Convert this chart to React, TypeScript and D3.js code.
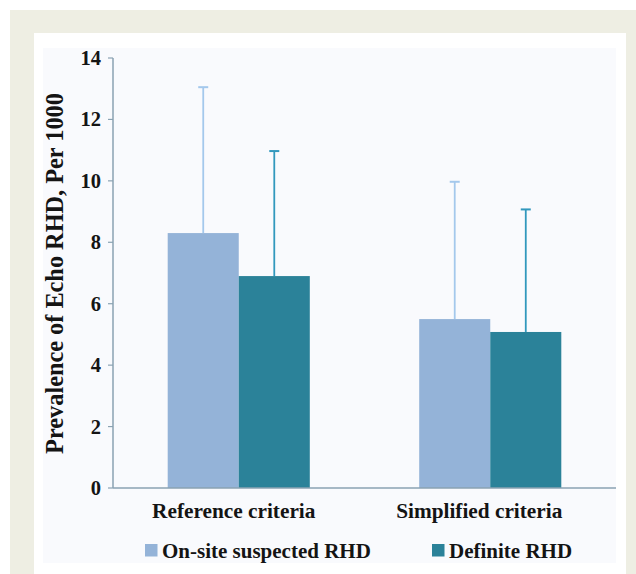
import React from 'react';
import * as d3 from 'd3';

const categories = ['Reference criteria', 'Simplified criteria'];
const seriesNames = ['On-site suspected RHD', 'Definite RHD'];
const seriesColors = ['#94b3d8', '#2b8299'];
const errorColors = ['#a4c8ec', '#3298bd'];
// values per series, one per category
const onSiteValues = [8.3, 5.5];
const definiteValues = [6.9, 5.08];
// upper end of the error bars
const onSiteUpper = [13.05, 9.97];
const definiteUpper = [10.97, 9.07];
const yTicks = [0, 2, 4, 6, 8, 10, 12, 14];

const FONT = '"Liberation Serif", "Times New Roman", serif';

export default function App() {
  const width = 636;
  const height = 574;
  const plot = { left: 113, right: 616, top: 58, bottom: 488 };

  const y = d3.scaleLinear().domain([0, 14]).range([plot.bottom, plot.top]);
  const x0 = d3.scaleBand<string>().domain(categories).range([plot.left, plot.right]);
  const x1 = d3
    .scaleBand<string>()
    .domain(seriesNames)
    .range([0, x0.bandwidth()])
    .paddingInner(0)
    .paddingOuter(0.77);

  const values = [onSiteValues, definiteValues];
  const uppers = [onSiteUpper, definiteUpper];
  const legendX = [145, 432];
  // category labels sit a little left of the bar centres
  const labelShift = [-5, -11];

  return (
    <div style={{ position: 'fixed', left: 0, top: 0 }}>
      <svg width={width} height={height} style={{ display: 'block' }}>
        <rect x={0} y={0} width={width} height={height} fill="#ffffff" />
        {/* beige frame */}
        <rect x={10} y={10} width={626} height={564} fill="#eeeee3" />
        <rect x={34} y={33} width={592} height={541} fill="#ffffff" />
        <rect x={43} y={48} width={573} height={515} fill="#f9fafd" />

        {/* bars */}
        {categories.map((c, ci) => (
          <g key={c} transform={`translate(${x0(c)},0)`}>
            {seriesNames.map((s, si) => {
              const bx = x1(s) as number;
              const bw = x1.bandwidth();
              const cx = bx + bw / 2;
              const top = y(values[si][ci]);
              const up = y(uppers[si][ci]);
              return (
                <g key={s}>
                  <rect x={bx} y={top} width={bw} height={y(0) - top} fill={seriesColors[si]} />
                  <line x1={cx} x2={cx} y1={top} y2={up} stroke={errorColors[si]} strokeWidth={1.8} />
                  <line x1={cx - 5} x2={cx + 5} y1={up} y2={up} stroke={errorColors[si]} strokeWidth={2} />
                </g>
              );
            })}
          </g>
        ))}

        {/* y axis */}
        <line x1={plot.left} x2={plot.left} y1={plot.top} y2={plot.bottom} stroke="#8aa2b2" strokeWidth={1.5} />
        {yTicks.map((t) => (
          <g key={t} transform={`translate(0,${y(t)})`}>
            <line x1={plot.left - 5} x2={plot.left} y1={0} y2={0} stroke="#8aa2b2" strokeWidth={1.2} />
            <text
              x={101}
              y={0}
              dy="0.34em"
              textAnchor="end"
              fontFamily={FONT}
              fontWeight="bold"
              fontSize={20.5}
              fill="#141414"
            >
              {t}
            </text>
          </g>
        ))}

        {/* x axis */}
        <line x1={plot.left} x2={plot.right} y1={plot.bottom} y2={plot.bottom} stroke="#8aa2b2" strokeWidth={1.5} />
        {categories.map((c, i) => (
          <text
            key={c}
            x={(x0(c) as number) + x0.bandwidth() / 2 + labelShift[i]}
            y={518}
            textAnchor="middle"
            fontFamily={FONT}
            fontWeight="bold"
            fontSize={21.3}
            fill="#141414"
          >
            {c}
          </text>
        ))}

        {/* y label */}
        <text
          transform="translate(63,273.5) rotate(-90)"
          textAnchor="middle"
          fontFamily={FONT}
          fontWeight="bold"
          fontSize={24.3}
          fill="#141414"
        >
          Prevalence of Echo RHD, Per 1000
        </text>

        {/* legend */}
        {seriesNames.map((s, i) => (
          <g key={s}>
            <rect x={legendX[i]} y={544} width={12.5} height={12.5} fill={seriesColors[i]} />
            <text
              x={legendX[i] + 17}
              y={558}
              fontFamily={FONT}
              fontWeight="bold"
              fontSize={21}
              fill="#141414"
            >
              {s}
            </text>
          </g>
        ))}
      </svg>
    </div>
  );
}
